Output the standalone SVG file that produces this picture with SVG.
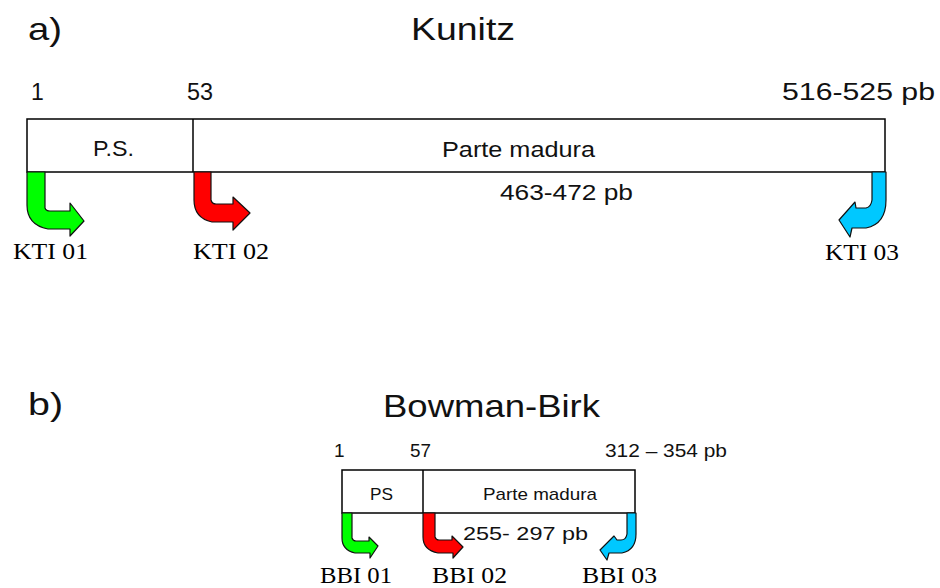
<svg xmlns="http://www.w3.org/2000/svg" width="940" height="588" viewBox="0 0 940 588">
<style>
.hand{font-family:"Liberation Sans","DejaVu Sans",sans-serif;fill:#111}
.lab{font-family:"Liberation Serif","Times New Roman",serif;fill:#000;font-size:24px}
.box{fill:#fff;stroke:#000;stroke-width:1.5}
.arr{stroke:#111;stroke-width:1.2;stroke-linejoin:round}
.g{fill:#00ff00}.r{fill:#ff0000}.b{fill:#00c8ff}
</style>
<rect width="940" height="588" fill="#fff"/>
<g id="kunitz">
<text class="hand" x="28" y="40" font-size="32" textLength="34" lengthAdjust="spacingAndGlyphs">a)</text>
<text class="hand" x="411" y="40" font-size="32" textLength="104" lengthAdjust="spacingAndGlyphs">Kunitz</text>
<text class="hand" x="31" y="100" font-size="23">1</text>
<text class="hand" x="187" y="100" font-size="23" textLength="26" lengthAdjust="spacingAndGlyphs">53</text>
<text class="hand" x="782" y="100" font-size="23" textLength="153" lengthAdjust="spacingAndGlyphs">516-525 pb</text>
<g id="k_box">
<rect class="box" x="27" y="119" width="858" height="53"/>
<line x1="193" y1="119" x2="193" y2="172" stroke="#000" stroke-width="1.5"/>
<text class="hand" x="93" y="156" font-size="22" textLength="41" lengthAdjust="spacingAndGlyphs">P.S.</text>
<text class="hand" x="442" y="157" font-size="22" textLength="153" lengthAdjust="spacingAndGlyphs">Parte madura</text>
</g>
<text class="hand" x="500" y="200" font-size="22" textLength="133" lengthAdjust="spacingAndGlyphs">463-472 pb</text>
</g>
<g id="kti01">
<path class="arr g" d="M27,172 L45,172 L45,208 Q46,211 50,211 L70,211 L70,203 L84,221 L70,236 L70,229 L48,229 Q27,225 27,205 Z"/>
<text class="lab" x="13" y="259" textLength="75" lengthAdjust="spacingAndGlyphs">KTI 01</text>
</g>
<g id="kti02">
<path class="arr r" d="M194,172 L211,172 L211,200 Q212,204 216,204 L233,204 L233,197 L250,213 L233,230 L233,222 L212,222 Q194,218 194,200 Z"/>
<text class="lab" x="193" y="259" textLength="76" lengthAdjust="spacingAndGlyphs">KTI 02</text>
</g>
<g id="kti03">
<path class="arr b" d="M886,172 L872,172 L872,200 Q871,207 866,208 L856,208 L855,202 L839,220 L850,237 L852,228 L866,228 Q886,224 886,200 Z"/>
<text class="lab" x="825" y="260" textLength="74" lengthAdjust="spacingAndGlyphs">KTI 03</text>
</g>
<g id="bowman">
<text class="hand" x="28" y="415" font-size="32" textLength="35" lengthAdjust="spacingAndGlyphs">b)</text>
<text class="hand" x="383" y="417" font-size="32" textLength="217" lengthAdjust="spacingAndGlyphs">Bowman-Birk</text>
<text class="hand" x="334" y="457" font-size="19">1</text>
<text class="hand" x="410" y="457" font-size="19" textLength="21" lengthAdjust="spacingAndGlyphs">57</text>
<text class="hand" x="605" y="457" font-size="19" textLength="122" lengthAdjust="spacingAndGlyphs">312 – 354 pb</text>
<g id="b_box">
<rect class="box" x="342" y="470" width="293" height="43"/>
<line x1="423" y1="470" x2="423" y2="513" stroke="#000" stroke-width="1.5"/>
<text class="hand" x="370" y="500" font-size="17" textLength="23" lengthAdjust="spacingAndGlyphs">PS</text>
<text class="hand" x="483" y="500" font-size="17" textLength="114" lengthAdjust="spacingAndGlyphs">Parte madura</text>
</g>
<text class="hand" x="463" y="540" font-size="19" textLength="125" lengthAdjust="spacingAndGlyphs">255- 297 pb</text>
</g>
<g id="bbi01">
<path class="arr g" d="M342,513 L352,513 L352,538 Q353,541 356,541 L369,541 L369,537 L378,546 L370,558 L370,553 L355,553 Q342,550 342,538 Z"/>
<text class="lab" x="320" y="583" textLength="72" lengthAdjust="spacingAndGlyphs">BBI 01</text>
</g>
<g id="bbi02">
<path class="arr r" d="M423,513 L435,513 L435,537 Q436,540 439,540 L452,540 L452,536 L463,547 L453,558 L453,553 L438,553 Q423,550 423,537 Z"/>
<text class="lab" x="432" y="583" textLength="75" lengthAdjust="spacingAndGlyphs">BBI 02</text>
</g>
<g id="bbi03">
<path class="arr b" d="M636,513 L627,513 L627,534 Q626,540 621,540 L617,540 L614,536 L600,550 L607,560 L609,553 L622,553 Q636,550 636,534 Z"/>
<text class="lab" x="582" y="583" textLength="75" lengthAdjust="spacingAndGlyphs">BBI 03</text>
</g>
<g id="connectors"></g>
</svg>
